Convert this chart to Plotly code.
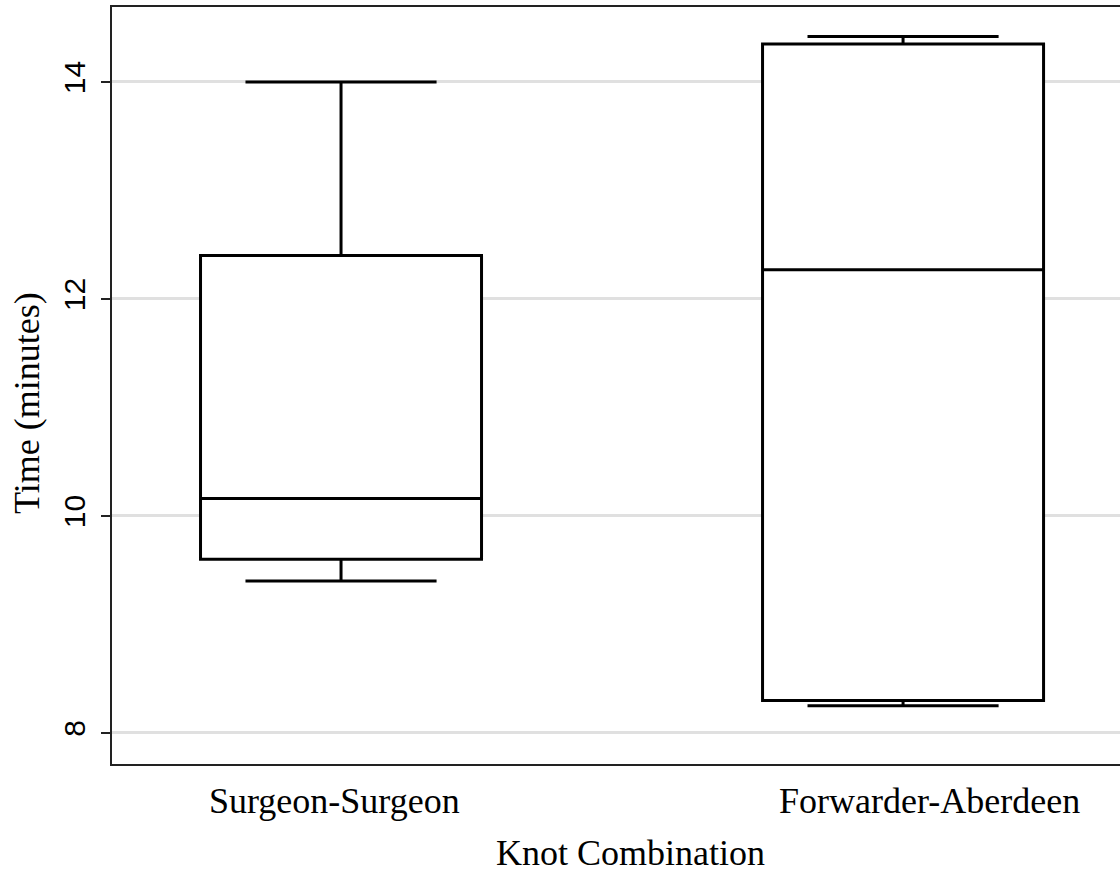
import plotly.graph_objects as go

categories = ["Surgeon-Surgeon", "Forwarder-Aberdeen"]
lower_whisker = [9.40, 8.25]
q1_values = [9.60, 8.30]
median_values = [10.16, 12.27]
q3_values = [12.40, 14.35]
upper_whisker = [14.00, 14.42]
y_ticks = [8, 10, 12, 14]
label_shift = [-7, 26]

fig = go.Figure()
for i, cat in enumerate(categories):
    fig.add_trace(go.Box(
        x=[cat],
        q1=[q1_values[i]],
        median=[median_values[i]],
        q3=[q3_values[i]],
        lowerfence=[lower_whisker[i]],
        upperfence=[upper_whisker[i]],
        width=0.5,
        whiskerwidth=0.68,
        line=dict(color="black", width=3),
        fillcolor="white",
        boxpoints=False,
        showlegend=False,
        hoverinfo="skip",
    ))

serif = dict(family="Liberation Serif", size=36, color="black")

annotations = []
for i, cat in enumerate(categories):
    annotations.append(dict(
        text=cat, x=cat, xref="x", y=0, yref="paper",
        xshift=label_shift[i], yshift=-37, yanchor="middle", xanchor="center",
        showarrow=False, font=serif,
    ))
annotations.append(dict(
    text="Knot Combination", x=0.5139, xref="paper", y=-0.1176, yref="paper",
    xanchor="center", yanchor="middle", showarrow=False, font=serif,
))
annotations.append(dict(
    text="Time (minutes)", x=-0.0843, xref="paper", y=0.4769, yref="paper",
    xanchor="center", yanchor="middle", textangle=-90, showarrow=False, font=serif,
))

fig.update_layout(
    width=1120, height=872,
    margin=dict(l=112, r=0, t=7, b=108),
    paper_bgcolor="white", plot_bgcolor="white",
    showlegend=False,
    annotations=annotations,
)
fig.update_xaxes(
    type="category",
    categoryorder="array", categoryarray=categories,
    range=[-0.4075, 1.386],
    showline=True, linecolor="#222", linewidth=2, mirror=True,
    showgrid=False, ticks="", zeroline=False, showticklabels=False,
)
fig.update_yaxes(
    range=[7.714, 14.691],
    tickvals=y_ticks, ticktext=[str(v) for v in y_ticks],
    tickangle=-90,
    ticks="outside", ticklen=9, tickwidth=2, tickcolor="#222",
    showline=True, linecolor="#222", linewidth=2, mirror=False,
    showgrid=True, gridcolor="#e0e0e0", gridwidth=3, zeroline=False,
    tickfont=dict(family="Liberation Sans", size=30, color="black"),
    ticklabelstandoff=4,
)

fig.write_html(
    "out.html",
    config={"displayModeBar": False},
    post_script="document.body.style.margin='0';document.body.style.padding='0';",
)
